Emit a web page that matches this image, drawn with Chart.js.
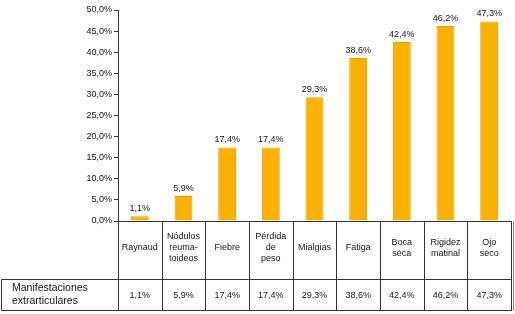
<!DOCTYPE html>
<html><head><meta charset="utf-8">
<script src="https://cdn.jsdelivr.net/npm/chart.js@4"></script>
<style>html,body{margin:0;padding:0;background:#fff}#wrap{width:515px;height:314px}</style>
</head><body><div id="wrap"><canvas id="c" width="515" height="314"></canvas></div>
<script>
const categories = [["Raynaud"],["Nódulos","reuma-","toideos"],["Fiebre"],["Pérdida","de","peso"],["Mialgias"],["Fatiga"],["Boca","seca"],["Rigidez","matinal"],["Ojo","seco"]];
const values = [1.1, 5.9, 17.4, 17.4, 29.3, 38.6, 42.4, 46.2, 47.3];
const rowHeader = ["Manifestaciones","extrarticulares"];
const yTicks = [0,5,10,15,20,25,30,35,40,45,50];

const FONT = '"Liberation Sans", Arial, Helvetica, sans-serif';
const fmt = v => v.toFixed(1).replace('.', ',') + '%';
const TABLE_MID = 279, TABLE_BOTTOM = 310;

const tablePlugin = {
  id: 'tablePlugin',
  afterDraw(chart) {
    const ctx = chart.ctx, xs = chart.scales.x, ca = chart.chartArea;
    const meta = chart.getDatasetMeta(0);
    ctx.save();
    ctx.fillStyle = '#111';
    ctx.font = '9px ' + FONT;
    ctx.textAlign = 'center';
    ctx.textBaseline = 'middle';
    meta.data.forEach((bar, i) => {
      ctx.fillText(fmt(values[i]), bar.x, bar.y - 8);
    });
    ctx.strokeStyle = '#333';
    ctx.lineWidth = 1;
    ctx.beginPath();
    const n = categories.length;
    for (let i = 0; i <= n; i++) {
      const x = Math.round(i === 0 ? ca.left : (i === n ? ca.right : (xs.getPixelForValue(i - 1) + xs.getPixelForValue(i)) / 2)) + 0.5;
      ctx.moveTo(x, ca.bottom);
      ctx.lineTo(x, TABLE_BOTTOM + 1);
    }
    ctx.moveTo(1.5, TABLE_MID + 0.5); ctx.lineTo(ca.right + 0.5, TABLE_MID + 0.5);
    ctx.moveTo(1.5, TABLE_BOTTOM + 0.5); ctx.lineTo(ca.right + 0.5, TABLE_BOTTOM + 0.5);
    ctx.moveTo(1.5, TABLE_MID + 0.5); ctx.lineTo(1.5, TABLE_BOTTOM + 0.5);
    ctx.stroke();
    // faint outer edge line on the right
    ctx.strokeStyle = '#888';
    ctx.beginPath();
    ctx.moveTo(Math.round(ca.right) + 2.5, ca.bottom);
    ctx.lineTo(Math.round(ca.right) + 2.5, TABLE_BOTTOM + 1);
    ctx.stroke();
    ctx.font = '9px ' + FONT;
    const lh = 11;
    const midCat = (ca.bottom + TABLE_MID) / 2 - 2;
    categories.forEach((lines, i) => {
      const x = xs.getPixelForValue(i);
      const y0 = midCat - (lines.length - 1) * lh / 2;
      lines.forEach((t, k) => ctx.fillText(t, x, y0 + k * lh));
    });
    const midVal = (TABLE_MID + TABLE_BOTTOM) / 2 + 1;
    values.forEach((v, i) => ctx.fillText(fmt(v), xs.getPixelForValue(i), midVal));
    ctx.textAlign = 'left';
    ctx.font = '10.5px ' + FONT;
    ctx.fillText(rowHeader[0], 12, 288);
    ctx.fillText(rowHeader[1], 12, 301);
    ctx.restore();
  }
};

new Chart(document.getElementById('c'), {
  type: 'bar',
  data: {
    labels: categories.map(c => c.join(' ')),
    datasets: [{
      data: values,
      backgroundColor: '#F9B200',
      borderColor: '#E29D00',
      borderWidth: 1,
      barPercentage: 0.82,
      categoryPercentage: 0.5
    }]
  },
  options: {
    responsive: false,
    animation: false,
    events: [],
    layout: { padding: { left: 0, right: 4, top: 10, bottom: 93 } },
    plugins: { legend: { display: false }, tooltip: { enabled: false } },
    scales: {
      x: {
        grid: { display: false },
        ticks: { display: false },
        border: { display: true, color: '#333', width: 1 },
        afterFit: s => { s.height = 0; }
      },
      y: {
        min: 0, max: 50,
        afterBuildTicks: s => { s.ticks = yTicks.map(v => ({ value: v })); },
        grid: { drawOnChartArea: false, drawTicks: true, tickLength: 4, color: '#333' },
        border: { display: true, color: '#333', width: 1 },
        ticks: { color: '#111', font: { family: FONT, size: 9 }, padding: 2, callback: v => fmt(v) },
        afterFit: s => { s.width = 118; }
      }
    }
  },
  plugins: [tablePlugin]
});
</script></body></html>
